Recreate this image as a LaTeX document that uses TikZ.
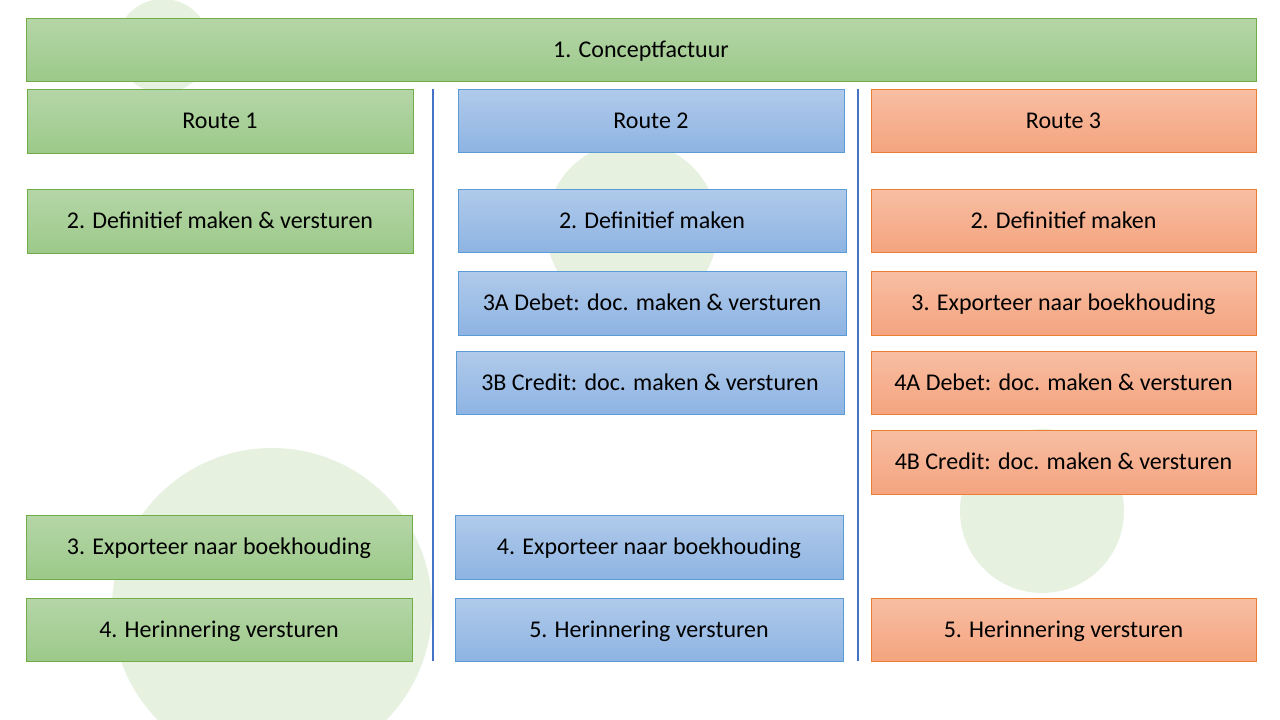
\documentclass[tikz,border=0pt]{standalone}
\usepackage{fontspec}
\setmainfont{Carlito}
\definecolor{gtop}{HTML}{B5D6A7}
\definecolor{gbot}{HTML}{9CC98A}
\definecolor{gline}{HTML}{70AD47}
\definecolor{btop}{HTML}{B0CAEA}
\definecolor{bbot}{HTML}{8EB4E3}
\definecolor{bline}{HTML}{5B9BD5}
\definecolor{otop}{HTML}{F8BEA3}
\definecolor{obot}{HTML}{F4A47F}
\definecolor{oline}{HTML}{ED7D31}
\definecolor{sepcol}{HTML}{4472C4}
\definecolor{circ}{HTML}{E7F1DF}
\tikzset{
  boxbase/.style={rectangle, inner sep=0pt, outer sep=0pt, line width=1pt,
    text height=19.5pt, text depth=4pt,
    font=\fontsize{24}{28}\selectfont, text=black},
  gbox/.style={boxbase, draw=gline, top color=gtop, bottom color=gbot},
  bbox/.style={boxbase, draw=bline, top color=btop, bottom color=bbot},
  obox/.style={boxbase, draw=oline, top color=otop, bottom color=obot},
  sepline/.style={draw=sepcol, line width=2pt},
  bgcirc/.style={fill=circ, draw=none}
}
\newcommand{\bx}[7]{%
  \node[#2, minimum width={(#5)-(#3)}, minimum height={(#6)-(#4)}]
    (#1) at ({((#3)+(#5))/2},{((#4)+(#6))/2}) {#7};}
\begin{document}
\begin{tikzpicture}[x=1pt,y=-1pt]
\clip (0,0) rectangle (1280,720);
\fill[white] (0,0) rectangle (1280,720);
% background circles
\fill[bgcirc] (163,46) circle (47);
\fill[bgcirc] (632,228) circle (86);
\fill[bgcirc] (1042,511) circle (82);
\fill[bgcirc] (272,608) circle (160);
% header
\bx{concept}{gbox}{26}{18}{1256}{81}{1. Conceptfactuur}
% route 1
\bx{r1}{gbox}{27}{89}{413}{153}{Route 1}
\bx{r1a}{gbox}{27}{189}{413}{253}{2. Definitief maken \& versturen}
\bx{r1b}{gbox}{26}{515}{412}{579}{3. Exporteer naar boekhouding}
\bx{r1c}{gbox}{26}{598}{412}{661}{4. Herinnering versturen}
% route 2
\bx{r2}{bbox}{458}{89}{844}{152}{Route 2}
\bx{r2a}{bbox}{458}{189}{846}{252}{2. Definitief maken}
\bx{r2b}{bbox}{458}{271}{846}{335}{3A Debet: doc. maken \& versturen}
\bx{r2c}{bbox}{456}{351}{844}{414}{3B Credit: doc. maken \& versturen}
\bx{r2d}{bbox}{455}{515}{843}{579}{4. Exporteer naar boekhouding}
\bx{r2e}{bbox}{455}{598}{843}{661}{5. Herinnering versturen}
% route 3
\bx{r3}{obox}{871}{89}{1256}{152}{Route 3}
\bx{r3a}{obox}{871}{189}{1256}{252}{2. Definitief maken}
\bx{r3b}{obox}{871}{271}{1256}{335}{3. Exporteer naar boekhouding}
\bx{r3c}{obox}{871}{351}{1256}{414}{4A Debet: doc. maken \& versturen}
\bx{r3d}{obox}{871}{430}{1256}{494}{4B Credit: doc. maken \& versturen}
\bx{r3e}{obox}{871}{598}{1256}{661}{5. Herinnering versturen}
% separators
\coordinate (s1t) at (433,89);
\coordinate (s1b) at (433,661);
\coordinate (s2t) at (858,89);
\coordinate (s2b) at (858,661);
\draw[sepline] (s1t) -- (s1b);
\draw[sepline] (s2t) -- (s2b);
\end{tikzpicture}
\end{document}
